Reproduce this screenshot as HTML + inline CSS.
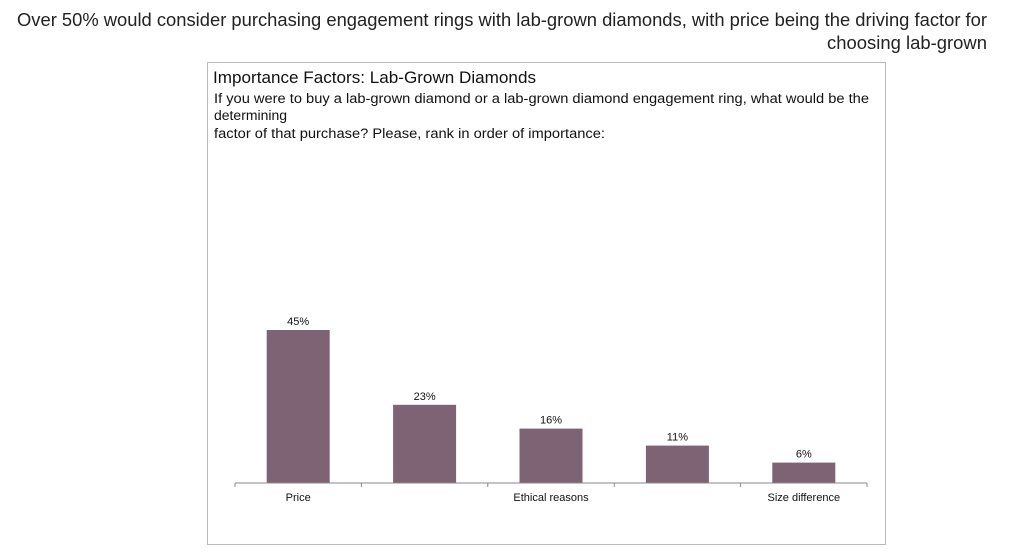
<!DOCTYPE html>
<html><head><meta charset="utf-8"><style>
body{margin:0;width:1024px;height:560px;background:#fff;overflow:hidden;font-family:"Liberation Sans",Arial,sans-serif;position:relative}
.ln{position:absolute;white-space:nowrap;transform-origin:0 0;color:#111}
.hl{font-size:18px;color:#222}
.sb{font-size:13.5px}
#box{position:absolute;left:207px;top:62px;width:679px;height:483px;border:1px solid #bbb;box-sizing:border-box}
svg{position:absolute;left:0;top:0}
</style></head><body>
<div class="ln hl" data-fit="17,987" style="top:10px">Over 50% would consider purchasing engagement rings with lab-grown diamonds, with price being the driving factor for</div>
<div class="ln hl" data-fit="827,987" style="top:33px">choosing lab-grown</div>
<div id="box"></div>
<div class="ln" data-fit="213,536" style="top:68px;font-size:17px">Importance Factors: Lab-Grown Diamonds</div>
<div class="ln sb" data-fit="214,869" style="top:91px">If you were to buy a lab-grown diamond or a lab-grown diamond engagement ring, what would be the</div>
<div class="ln sb" data-fit="214,287" style="top:108px">determining</div>
<div class="ln sb" data-fit="214,605" style="top:126px">factor of that purchase? Please, rank in order of importance:</div>
<svg id="chart" width="1024" height="560"></svg>
<script>
document.querySelectorAll('[data-fit]').forEach(e=>{
  const [a,b]=e.getAttribute('data-fit').split(',').map(Number);
  e.style.left=a+'px';
  const w=e.getBoundingClientRect().width;
  e.style.transform='scaleX('+((b-a)/w)+')';
});
const categories=["Price","Quality","Ethical reasons","Environmental","Size difference"];
const showLabel=[true,false,true,false,true];
const values=[45,23,16,11,6];
const NS="http://www.w3.org/2000/svg";
const svg=document.getElementById('chart');
const x0=235,x1=867,base=483,pxPer=3.4,bw=63;
const step=(x1-x0)/categories.length;
const xs=i=>x0+step*i+step/2;
const ys=v=>base-v*pxPer;
function mk(t,a){const e=document.createElementNS(NS,t);for(const k in a)e.setAttribute(k,a[k]);svg.appendChild(e);return e;}
values.forEach((v,i)=>{
  const r=mk('rect',{x:xs(i)-bw/2,y:ys(v),width:bw,height:base-ys(v),fill:'#7d6373'});
  
  
  const t=mk('text',{x:xs(i),y:ys(v)-5,'text-anchor':'middle','font-size':'11','fill':'#111'});
  t.textContent=v+'%';
  
  
  if(showLabel[i]){
    const l=mk('text',{x:xs(i),y:base+18,'text-anchor':'middle','font-size':'11','fill':'#111'});
    l.textContent=categories[i];
    
    
  }
});
const ax=mk('line',{x1:x0,x2:x1,y1:base,y2:base,stroke:'#888','stroke-width':1});


for(let i=0;i<=categories.length;i++){
  const tk=mk('line',{x1:x0+step*i,x2:x0+step*i,y1:base,y2:base+4,stroke:'#888'});
  
  
}
</script>
</body></html>
